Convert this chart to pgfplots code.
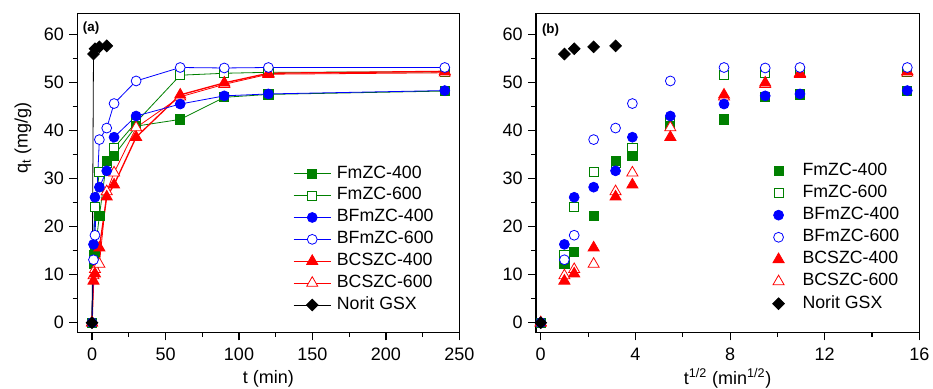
\documentclass[border=0pt]{standalone}
\usepackage{fontspec}
\setmainfont{Liberation Sans}
\usepackage{pgfplots}
\usepackage{pgfplotstable}
\pgfplotsset{compat=1.18}
\definecolor{cg}{RGB}{0,128,0}
\definecolor{cb}{RGB}{0,0,255}
\definecolor{cr}{RGB}{255,0,0}

\pgfplotstableread{
t s q1 q2 q3 q4 q5 q6
0 0 0 0 0 0 0 0
1 1 12.3 14.2 16.3 13.1 8.7 9.8
2 1.4142 14.7 24.1 26.1 18.2 10.2 11.1
5 2.2361 22.2 31.3 28.2 38.1 15.6 12.2
10 3.1623 33.7 33.2 31.6 40.5 26.2 27.3
15 3.8730 34.8 36.4 38.6 45.6 28.7 31.2
30 5.4772 40.9 41.7 43.0 50.3 38.6 40.6
60 7.7460 42.3 51.5 45.5 53.1 47.4 47.0
90 9.4868 46.9 51.9 47.2 53.0 49.9 49.6
120 10.9545 47.5 52.1 47.6 53.1 51.9 51.7
240 15.4919 48.2 52.2 48.3 53.1 52.3 52.0
}\kin

\pgfplotstableread{
t s q
0 0 0
1 1 55.9
2 1.4142 57.0
5 2.2361 57.4
10 3.1623 57.6
}\norit

\pgfplotsset{
 s1/.style={color=cg, line width=0.6pt, mark=square*, mark size=3.4pt, mark options={solid, line width=0.6pt}},
 s2/.style={color=cg, line width=0.6pt, mark=square*, mark size=3.4pt, mark options={solid, fill=white, line width=0.6pt}},
 s3/.style={color=cb, line width=0.6pt, mark=*, mark size=3.7pt, mark options={solid, line width=0.6pt}},
 s4/.style={color=cb, line width=0.6pt, mark=*, mark size=3.7pt, mark options={solid, fill=white, line width=0.6pt}},
 s5/.style={color=cr, line width=1pt, mark=triangle*, mark size=4.8pt, mark options={solid, line width=0.6pt}},
 s6/.style={color=cr, line width=0.6pt, mark=triangle*, mark size=4.8pt, mark options={solid, fill=white, line width=0.6pt}},
 s7/.style={color=black, line width=0.6pt, mark=square*, mark size=3.1pt, mark options={solid, rotate=45, line width=0.6pt}},
 common/.style={
   scale only axis, anchor=south west, height=239pt,
   ymin=-2, ymax=64.3,
   ytick={0,10,...,60}, minor y tick num=1, minor x tick num=1,
   tick align=outside, major tick length=6pt, minor tick length=3.5pt,
   tick style={black, line width=0.8pt},
   axis line style={line width=0.9pt},
   xtick pos=bottom, ytick pos=left,
   /pgf/number format/assume math mode=true,
   ticklabel style={font=\fontsize{13.5}{15}\selectfont},
   xticklabel style={yshift=-2pt},
   yticklabel style={xshift=-0.5pt},
   label style={font=\fontsize{13.5}{15}\selectfont},
   legend cell align=left,
 },
}

\begin{document}
\begin{tikzpicture}
\useasboundingbox (0,0) rectangle (699.75pt,291.75pt);
\begin{axis}[common,
  at={(58pt,42.5pt)}, width=286.6pt,
  xmin=-10, xmax=250, xtick={0,50,...,250},
  xlabel={t (min)}, ylabel={q\textsubscript{t} (mg/g)},
  xlabel style={at={(axis description cs:0.5,-0.106)}, anchor=north},
  ylabel style={at={(axis description cs:-0.142,0.609)}, anchor=center},
  legend image code/.code={\draw[mark repeat=2,mark phase=2,#1] plot coordinates {(0pt,0pt) (14pt,0pt) (28pt,0pt)}; \path[draw=none,fill=none] (0pt,0pt) -- (32pt,0pt);},
  legend style={draw=none, fill=none, at={(axis description cs:0.553,0.533)}, anchor=north west,
    font=\fontsize{13.3}{15}\selectfont, row sep=3.9pt,
    nodes={inner sep=0.5pt, text height=9pt, text depth=2.5pt}},
]
\addplot[s2, forget plot] table[x=t,y=q2]{\kin};
\addplot[s1, forget plot] table[x=t,y=q1]{\kin};
\addplot[s6, forget plot] table[x=t,y=q6]{\kin};
\addplot[s5, forget plot] table[x=t,y=q5]{\kin};
\addplot[s3, forget plot] table[x=t,y=q3]{\kin};
\addplot[s4, forget plot] table[x=t,y=q4]{\kin};
\addplot[s7, forget plot] table[x=t,y=q]{\norit};
\addlegendimage{s1}\addlegendentry{FmZC-400}
\addlegendimage{s2}\addlegendentry{FmZC-600}
\addlegendimage{s3}\addlegendentry{BFmZC-400}
\addlegendimage{s4}\addlegendentry{BFmZC-600}
\addlegendimage{s5}\addlegendentry{BCSZC-400}
\addlegendimage{s6}\addlegendentry{BCSZC-600}
\addlegendimage{s7}\addlegendentry{Norit GSX}
\node[anchor=west, inner sep=0pt, font=\bfseries\fontsize{10}{12}\selectfont] at (axis description cs:0.014,0.955) {(a)};
\end{axis}

\begin{axis}[common,
  at={(402pt,42.5pt)}, width=287.5pt,
  xmin=-0.2, xmax=16, xtick={0,4,...,16},
  xlabel={t\textsuperscript{1/2} (min\textsuperscript{1/2})},
  xlabel style={at={(axis description cs:0.5,-0.097)}, anchor=north},
  legend image code/.code={\draw[#1, only marks] plot coordinates {(4.5pt,0pt)}; \path[draw=none,fill=none] (0pt,0pt) -- (22pt,0pt);},
  legend style={draw=none, fill=none, at={(axis description cs:0.606,0.542)}, anchor=north west,
    font=\fontsize{13.3}{15}\selectfont, row sep=4.1pt,
    nodes={inner sep=0.5pt, text height=9pt, text depth=2.5pt}},
]
\addplot[s2, only marks, forget plot] table[x=s,y=q2]{\kin};
\addplot[s1, only marks, forget plot] table[x=s,y=q1]{\kin};
\addplot[s6, only marks, forget plot] table[x=s,y=q6]{\kin};
\addplot[s5, only marks, forget plot] table[x=s,y=q5]{\kin};
\addplot[s3, only marks, forget plot] table[x=s,y=q3]{\kin};
\addplot[s4, only marks, forget plot] table[x=s,y=q4]{\kin};
\addplot[s7, only marks, forget plot] table[x=s,y=q]{\norit};
\addlegendimage{s1, only marks}\addlegendentry{FmZC-400}
\addlegendimage{s2, only marks}\addlegendentry{FmZC-600}
\addlegendimage{s3, only marks}\addlegendentry{BFmZC-400}
\addlegendimage{s4, only marks}\addlegendentry{BFmZC-600}
\addlegendimage{s5, only marks}\addlegendentry{BCSZC-400}
\addlegendimage{s6, only marks}\addlegendentry{BCSZC-600}
\addlegendimage{s7, only marks}\addlegendentry{Norit GSX}
\node[anchor=west, inner sep=0pt, font=\bfseries\fontsize{10}{12}\selectfont] at (axis description cs:0.015,0.948) {(b)};
\end{axis}
\end{tikzpicture}
\end{document}
